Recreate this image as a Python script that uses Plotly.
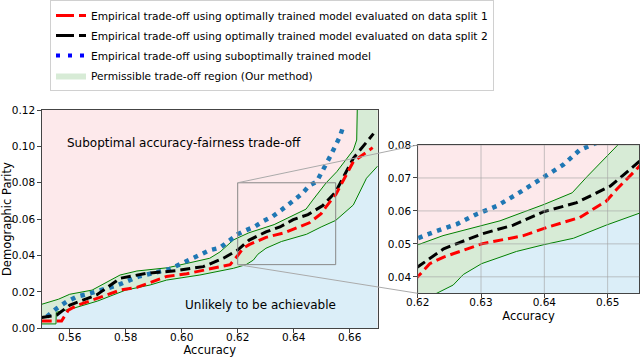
import plotly.graph_objects as go

# bounds of the permissible region (green lines)
upper_acc = [0.55, 0.556, 0.56, 0.568, 0.578, 0.584, 0.595, 0.610, 0.6137, 0.6185, 0.62, 0.624,
             0.633, 0.640, 0.6444, 0.6468, 0.6516, 0.6554, 0.6613, 0.6625, 0.6627]
upper_dp = [0.0132, 0.016, 0.0187, 0.021, 0.0293, 0.0315, 0.0333, 0.0385, 0.042, 0.0486, 0.0497, 0.0525,
            0.057, 0.062, 0.0655, 0.0705, 0.080, 0.0861, 0.098, 0.1035, 0.12]
lower_acc = [0.55, 0.5551, 0.5552, 0.5613, 0.570, 0.580, 0.5887, 0.5946, 0.6065, 0.6185, 0.623, 0.6256,
             0.6272, 0.6301, 0.6356, 0.6398, 0.6446, 0.6498, 0.655, 0.6613, 0.666, 0.67]
lower_dp = [0.0024, 0.0024, 0.0088, 0.011, 0.015, 0.021, 0.0238, 0.0265, 0.0293, 0.033, 0.035, 0.0375,
            0.0407, 0.044, 0.0477, 0.0497, 0.0517, 0.0557, 0.0593, 0.0678, 0.0825, 0.0892]

# optimally trained model, data split 1
split1_acc = [0.55, 0.5571, 0.5595, 0.5625, 0.5708, 0.578, 0.584, 0.5875, 0.5946, 0.6018, 0.6101, 0.6173,
              0.62, 0.6219, 0.6241, 0.6301, 0.6367, 0.6409, 0.6456, 0.6498, 0.6514, 0.655, 0.6613, 0.6682]
split1_dp = [0.004, 0.004, 0.010, 0.0125, 0.017, 0.021, 0.0225, 0.0245, 0.0285, 0.030, 0.0325, 0.035,
             0.040, 0.044, 0.046, 0.050, 0.0525, 0.0553, 0.058, 0.063, 0.0665, 0.0735, 0.0916, 0.0993]

# optimally trained model, data split 2
split2_acc = [0.55, 0.5554, 0.5601, 0.5696, 0.578, 0.5875, 0.5982, 0.6077, 0.6149, 0.62, 0.6241, 0.6301,
              0.6351, 0.6398, 0.6451, 0.6504, 0.655, 0.6613, 0.6685]
split2_dp = [0.0059, 0.0073, 0.0128, 0.0183, 0.0275, 0.0302, 0.0317, 0.0339, 0.0385, 0.043, 0.0485, 0.053,
             0.0557, 0.0597, 0.0625, 0.0675, 0.075, 0.0935, 0.107]

# suboptimally trained model
subopt_acc = [0.5518, 0.5554, 0.559, 0.5625, 0.5661, 0.5708, 0.5768, 0.5845, 0.5899, 0.5958, 0.5994, 0.603,
              0.6065, 0.6101, 0.6137, 0.6173, 0.62, 0.6227, 0.6262, 0.6293, 0.6325, 0.6356, 0.6398, 0.643,
              0.6456, 0.6482, 0.653, 0.6565, 0.6577]
subopt_dp = [0.0064, 0.011, 0.0147, 0.0174, 0.0187, 0.021, 0.0235, 0.0284, 0.0302, 0.0326, 0.0352, 0.0376,
             0.0403, 0.043, 0.0443, 0.0486, 0.0517, 0.0537, 0.056, 0.059, 0.0615, 0.065, 0.070, 0.074,
             0.0785, 0.0806, 0.0944, 0.1054, 0.111]

main_x = [0.55, 0.67]
main_y = [0.0, 0.12]
zoom_x = [0.62, 0.655]
zoom_y = [0.035, 0.08]

PINK = '#fde9eb'
BLUE = '#dbeef8'
GREEN = '#d7ebd6'
FONT = 'DejaVu Sans'

# axes boxes in paper coords
main_dom_x = [41.7 / 640, 377.7 / 640]
main_dom_y = [1 - 328.3 / 357, 1 - 110 / 357]
ins_dom_x = [417.7 / 640, 639.3 / 640]
ins_dom_y = [1 - 293.3 / 357, 1 - 145 / 357]

# green region polygon: upper bound, past the top right corner, then lower bound back
poly_x = upper_acc + [upper_acc[-1], main_x[1] + 0.01, main_x[1] + 0.01] + lower_acc[::-1]
poly_y = upper_dp + [main_y[1] + 0.01, main_y[1] + 0.01, lower_dp[-1]] + lower_dp[::-1]

fig = go.Figure()

for xa, ya in [('x', 'y'), ('x2', 'y2')]:
    fig.add_trace(go.Scatter(x=lower_acc, y=lower_dp, mode='lines', fill='tozeroy', fillcolor=BLUE,
                             line=dict(width=0), showlegend=False, xaxis=xa, yaxis=ya, hoverinfo='skip'))
    fig.add_trace(go.Scatter(x=poly_x, y=poly_y, mode='lines', fill='toself', fillcolor=GREEN,
                             line=dict(width=0), showlegend=False, xaxis=xa, yaxis=ya, hoverinfo='skip'))
    fig.add_trace(go.Scatter(x=upper_acc, y=upper_dp, mode='lines', line=dict(color='green', width=1),
                             showlegend=False, xaxis=xa, yaxis=ya))
    fig.add_trace(go.Scatter(x=lower_acc, y=lower_dp, mode='lines', line=dict(color='green', width=1),
                             showlegend=False, xaxis=xa, yaxis=ya))
    fig.add_trace(go.Scatter(x=subopt_acc, y=subopt_dp, mode='lines',
                             line=dict(color='#1f77b4', width=4.5, dash='4.5px,5.5px'),
                             showlegend=False, xaxis=xa, yaxis=ya))
    fig.add_trace(go.Scatter(x=split2_acc, y=split2_dp, mode='lines',
                             line=dict(color='black', width=3, dash='10px,5px'),
                             showlegend=False, xaxis=xa, yaxis=ya))
    fig.add_trace(go.Scatter(x=split1_acc, y=split1_dp, mode='lines',
                             line=dict(color='red', width=3, dash='10px,5px'),
                             showlegend=False, xaxis=xa, yaxis=ya))

# legend-only entries
fig.add_trace(go.Scatter(x=[None], y=[None], mode='lines', line=dict(color='red', width=3, dash='18px,5px'),
                         legendgroup='a',
                         name='Empirical trade-off using optimally trained model evaluated on data split 1'))
fig.add_trace(go.Scatter(x=[None], y=[None], mode='lines', line=dict(color='black', width=3, dash='18px,5px'),
                         legendgroup='b',
                         name='Empirical trade-off using optimally trained model evaluated on data split 2'))
fig.add_trace(go.Scatter(x=[None], y=[None], mode='lines', line=dict(color='blue', width=4, dash='4px,8px'),
                         legendgroup='c', name='Empirical trade-off using suboptimally trained model'))
fig.add_trace(go.Scatter(x=[None, None], y=[None, None], mode='lines', fill='toself', fillcolor=GREEN,
                         line=dict(width=0), legendgroup='d', name='Permissible trade-off region (Our method)'))

axis_common = dict(showline=True, linecolor='#444', linewidth=1, mirror=True, ticks='outside',
                   ticklen=3.5, tickcolor='#444', tickfont=dict(size=10.5, color='black'),
                   zeroline=False, automargin=False)

fig.update_layout(
    width=640, height=357, template='none',
    margin=dict(l=0, r=0, t=0, b=0),
    paper_bgcolor='white', plot_bgcolor=PINK,
    font=dict(family=FONT, color='black'),
    xaxis=dict(domain=main_dom_x, range=main_x, tickvals=[0.56, 0.58, 0.60, 0.62, 0.64, 0.66],
               tickformat='.2f', showgrid=False, anchor='y', ticklabelstandoff=-4,
               title=dict(text='Accuracy', font=dict(size=11.5), standoff=2), **axis_common),
    yaxis=dict(domain=main_dom_y, range=main_y, tickvals=[0, 0.02, 0.04, 0.06, 0.08, 0.10, 0.12],
               tickformat='.2f', showgrid=False, anchor='x',
               title=dict(text='Demographic Parity', font=dict(size=11.5), standoff=4), **axis_common),
    xaxis2=dict(domain=ins_dom_x, range=zoom_x, tickvals=[0.62, 0.63, 0.64, 0.65], tickformat='.2f',
                showgrid=False, anchor='y2', ticklabelstandoff=-4,
                title=dict(text='Accuracy', font=dict(size=11.5), standoff=4), **axis_common),
    yaxis2=dict(domain=ins_dom_y, range=zoom_y, tickvals=[0.04, 0.05, 0.06, 0.07, 0.08], tickformat='.2f',
                showgrid=False, anchor='x2', **axis_common),
    legend=dict(x=50 / 640, y=1, xanchor='left', yanchor='top', bgcolor='white',
                bordercolor='#d0d0d0', borderwidth=1, font=dict(size=10.6, color='black'),
                tracegroupgap=1, itemwidth=30),
    showlegend=True,
)

# inset grid, drawn over the fills like matplotlib does
for v in [0.62, 0.63, 0.64, 0.65]:
    fig.add_shape(type='line', xref='x2', yref='y2 domain', x0=v, x1=v, y0=0, y1=1,
                  line=dict(color='rgba(160,160,160,0.6)', width=1), layer='above')
for v in [0.04, 0.05, 0.06, 0.07, 0.08]:
    fig.add_shape(type='line', xref='x2 domain', yref='y2', x0=0, x1=1, y0=v, y1=v,
                  line=dict(color='rgba(160,160,160,0.6)', width=1), layer='above')

# zoom rectangle on the main axes
fig.add_shape(type='rect', xref='x', yref='y', x0=zoom_x[0], x1=zoom_x[1], y0=zoom_y[0], y1=zoom_y[1],
              line=dict(color='#888', width=1), layer='above')


def to_paper(v, rng, dom):
    return dom[0] + (v - rng[0]) / (rng[1] - rng[0]) * (dom[1] - dom[0])


# connector lines from the rectangle corners to the inset corners
for yv, iy in [(zoom_y[1], ins_dom_y[1]), (zoom_y[0], ins_dom_y[0])]:
    fig.add_shape(type='line', xref='paper', yref='paper',
                  x0=to_paper(zoom_x[0], main_x, main_dom_x), y0=to_paper(yv, main_y, main_dom_y),
                  x1=ins_dom_x[0], y1=iy, line=dict(color='#aaa', width=1), layer='above')

fig.add_annotation(x=0.5583, y=0.102, xref='x', yref='y', text='Suboptimal accuracy-fairness trade-off',
                   showarrow=False, xanchor='left', yanchor='middle', font=dict(size=12))
fig.add_annotation(x=0.6004, y=0.0128, xref='x', yref='y', text='Unlikely to be achievable',
                   showarrow=False, xanchor='left', yanchor='middle', font=dict(size=12))

# the page's default body margin would shift the figure by 8px
fig.write_html('out.html', config={'displayModeBar': False},
               post_script="document.body.style.margin = '0px';")
